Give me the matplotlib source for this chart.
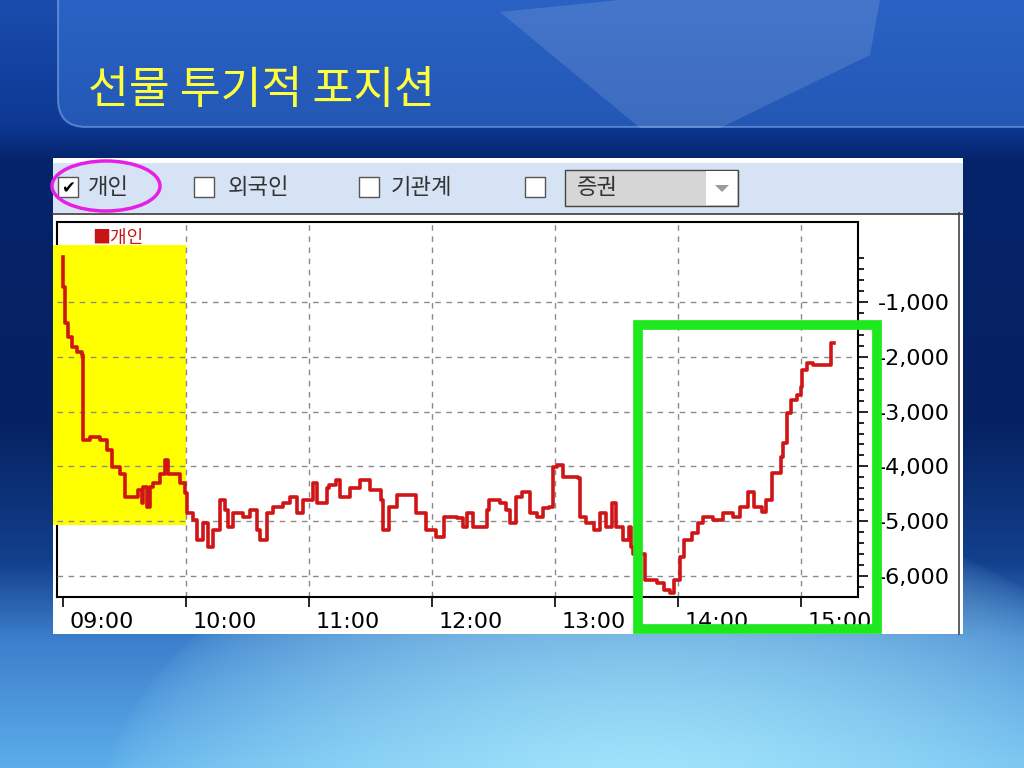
import numpy as np
import matplotlib
matplotlib.use('Agg')
import matplotlib.pyplot as plt
import matplotlib.transforms as mtransforms
from matplotlib.patches import Rectangle, Ellipse, FancyBboxPatch, Polygon
from matplotlib.ticker import FixedLocator, FuncFormatter

# 개인 선물 순매수 포지션 (09:00 기준 경과 분, 계약)
times_min = [0, 0.2, 1, 2.6, 4.2, 6.7, 9.1, 9.9, 13.2, 18, 21.3, 23.8, 27.8, 30.2,
             34.3, 36.7, 38.4, 39.2, 40.8, 42.4, 44, 47.3, 49.8, 51.4, 53.8, 57.1, 59.5,
             60.3, 63.6, 65.2, 68.4, 70.9, 73.3, 76.6, 79, 80.6, 83, 88, 91.2, 94.5, 96,
             99.4, 102.6, 107.5, 110.7, 114, 117.2, 122, 123.7, 128.6,
             130, 133, 135, 140, 145, 150, 155, 156, 159, 163, 169, 172, 177, 182, 186,
             192, 195, 197, 200, 207, 208, 213, 216, 218, 221, 224, 228, 231, 234, 237,
             239, 241, 244, 251, 252, 255, 259, 262, 265, 268, 270, 273, 276, 277,
             278, 284, 290, 293, 296, 298, 301, 303, 307, 310, 312, 317, 322, 327, 330,
             334, 337, 341, 343, 346, 350, 351, 353, 355, 358, 360, 360.5, 363, 366,
             374, 374.5, 376]
values = [-170, -720, -1390, -1630, -1815, -1905, -1970, -3520, -3460, -3520, -3700, -4005,
          -4130, -4550, -4550, -4430, -4670, -4370, -4740, -4370, -4310, -4130, -3880,
          -4130, -4130, -4310, -4490,
          -4850, -4980, -5340, -5030, -5470, -5160, -4610, -4800, -5100, -4850, -4920,
          -4800, -5160, -5340, -4850, -4740, -4670, -4560, -4850, -4610, -4300, -4670, -4400,
          -4340, -4250, -4560, -4400, -4250, -4430, -4610, -5160, -4740, -4520, -4520,
          -4850, -5160, -5290, -4920, -4940, -5100, -4850, -5100, -4800, -4610, -4670,
          -4800, -5030, -4560, -4470, -4850, -4920, -4760, -4740, -4010, -3970, -4190,
          -4210, -4920, -5030, -5160, -4850, -5100, -4670, -5100, -5340, -5100, -5470,
          -5600, -6070, -6130, -6250, -6310, -6070, -5650, -5340, -5220, -5030, -4920,
          -4980, -4850, -4920, -4740, -4470, -4740, -4830, -4610, -4120, -3830, -3570,
          -3030, -2790, -2700, -2550, -2240, -2110, -2150, -2150, -1750, -1750]

hour_ticks = [0, 60, 120, 180, 240, 300, 360]
hour_labels = ['09:00', '10:00', '11:00', '12:00', '13:00', '14:00', '15:00']
y_ticks = [-1000, -2000, -3000, -4000, -5000, -6000]

title = '선물 투기적 포지션'
checkbox_labels = ['개인', '외국인', '기관계']
combo_label = '증권'
legend_label = '개인'

KR = ['Noto Sans CJK KR', 'DejaVu Sans']
W, H = 1024, 768

fig = plt.figure(figsize=(W / 100, H / 100), dpi=100)

# ---- 배경 (슬라이드) ----
bg = fig.add_axes([0, 0, 1, 1])
yy, xx = np.mgrid[0:H, 0:W].astype(float)
sy = [0, 125, 160, 420, 560, 640, 768]
sc = np.array([[0.10, 0.30, 0.68], [0.05, 0.22, 0.58], [0.02, 0.14, 0.42],
               [0.02, 0.13, 0.38], [0.07, 0.25, 0.55], [0.24, 0.50, 0.80],
               [0.36, 0.68, 0.92]])
img = np.stack([np.interp(yy, sy, sc[:, i]) for i in range(3)], axis=-1)
d = np.sqrt(((xx - 640) / 540) ** 2 + ((yy - 820) / 330) ** 2)
glow = np.clip(1 - d, 0, 1) ** 0.6 * 0.85
img = img * (1 - glow[..., None]) + np.array([0.70, 0.95, 1.0]) * glow[..., None]
bg.imshow(img, extent=[0, W, H, 0], aspect='auto', interpolation='bilinear')
bg.set_xlim(0, W)
bg.set_ylim(H, 0)
bg.axis('off')

bg.add_patch(FancyBboxPatch((58, -40), 1010, 167, boxstyle='round,pad=0,rounding_size=28',
                            fc='#3f7fe0', ec='#9cc2f5', lw=1.5, alpha=0.45))
bg.add_patch(Polygon([(500, 12), (620, 0), (880, 0), (870, 55), (720, 128), (640, 128)],
                     closed=True, fc='white', ec='none', alpha=0.12))
bg.text(88, 90, title, fontsize=32, color='#ffff3c', family=KR, va='center', ha='left')

# 화면 캡처 패널
bg.add_patch(Rectangle((53, 158), 910, 476, fc='white', ec='none'))
bg.add_patch(Rectangle((53, 163), 910, 50, fc='#d5e3f5', ec='none'))
bg.plot([53, 963], [213.5, 213.5], color='#3a3a3a', lw=1.2)
bg.plot([958.5, 958.5], [213, 634], color='#444444', lw=1.2)

for bx in [58, 194, 359, 525]:
    bg.add_patch(Rectangle((bx, 177), 20, 20, fc='white', ec='#555555', lw=1))
bg.text(68, 188, '✔', fontsize=12, color='black', ha='center', va='center')
for tx, lab in zip([88, 228, 391], checkbox_labels):
    bg.text(tx, 187, lab, fontsize=16, color='#333333', family=KR, va='center', ha='left')

bg.add_patch(Rectangle((565, 170), 173, 36, fc='#d6d6d6', ec='#444444', lw=1))
bg.add_patch(Rectangle((706, 171), 31, 34, fc='white', ec='none'))
bg.add_patch(Polygon([(715, 185), (729, 185), (722, 192)], closed=True, fc='#9a9a9a', ec='none'))
bg.text(577, 187, combo_label, fontsize=16, color='#333333', family=KR, va='center', ha='left')

# ---- 차트 ----
ax = fig.add_axes([57 / W, 1 - 597 / H, 801 / W, 375 / H])
ax.set_facecolor('white')
ax.set_xlim(-2.9, 387.8)
ax.set_ylim(-6383, 460)

for s in ax.spines.values():
    s.set_linewidth(1.5)
    s.set_color('black')
ax.spines['left'].set_zorder(0.4)

ax.add_patch(Rectangle((-4.9, -5070), 64.9, 5110, fc='#ffff00', ec='none',
                       clip_on=False, zorder=0.5))

for t in hour_ticks[1:]:
    ax.axvline(t, color='#8a8a8a', ls=(0, (4, 4)), lw=1, zorder=1)
for v in y_ticks:
    ax.axhline(v, color='#8a8a8a', ls=(0, (4, 4)), lw=1, zorder=1)

ax.plot(times_min, values, color='#cf1515', lw=2.6, drawstyle='steps-post', zorder=3)

ax.text((92 - 57) / 801, 1 - (238 - 222) / 375, '■' + legend_label, transform=ax.transAxes,
        fontsize=13, color='#c81414', family=KR, va='center', ha='left')

ax.set_xticks(hour_ticks)
ax.set_xticklabels(hour_labels)
ax.tick_params(axis='x', direction='out', length=7, width=1.2, pad=4, labelsize=16)
offset = mtransforms.ScaledTranslation(5 / 72, 0, fig.dpi_scale_trans)
for lab in ax.get_xticklabels():
    lab.set_horizontalalignment('left')
    lab.set_transform(lab.get_transform() + offset)

ax.yaxis.tick_right()
ax.set_yticks(y_ticks)
ax.yaxis.set_major_formatter(FuncFormatter(lambda v, p: f'{int(v):,}'))
ax.yaxis.set_minor_locator(FixedLocator(list(range(-200, -6500, -200))))
ax.tick_params(axis='y', which='major', direction='out', length=7, width=1.2, pad=7, labelsize=16)
ax.tick_params(axis='y', which='minor', direction='out', length=4.5, width=1.2)

# ---- 강조 표시 ----
ov = fig.add_axes([0, 0, 1, 1])
ov.set_xlim(0, W)
ov.set_ylim(H, 0)
ov.axis('off')
ov.patch.set_alpha(0)
ov.add_patch(Rectangle((638, 325), 239, 304, fill=False, ec='#1ee81e', lw=7, joinstyle='miter'))
ov.add_patch(Ellipse((106, 186), 108, 50, fill=False, ec='#e61ee6', lw=2.5))

fig.savefig('out.png', dpi=100)
